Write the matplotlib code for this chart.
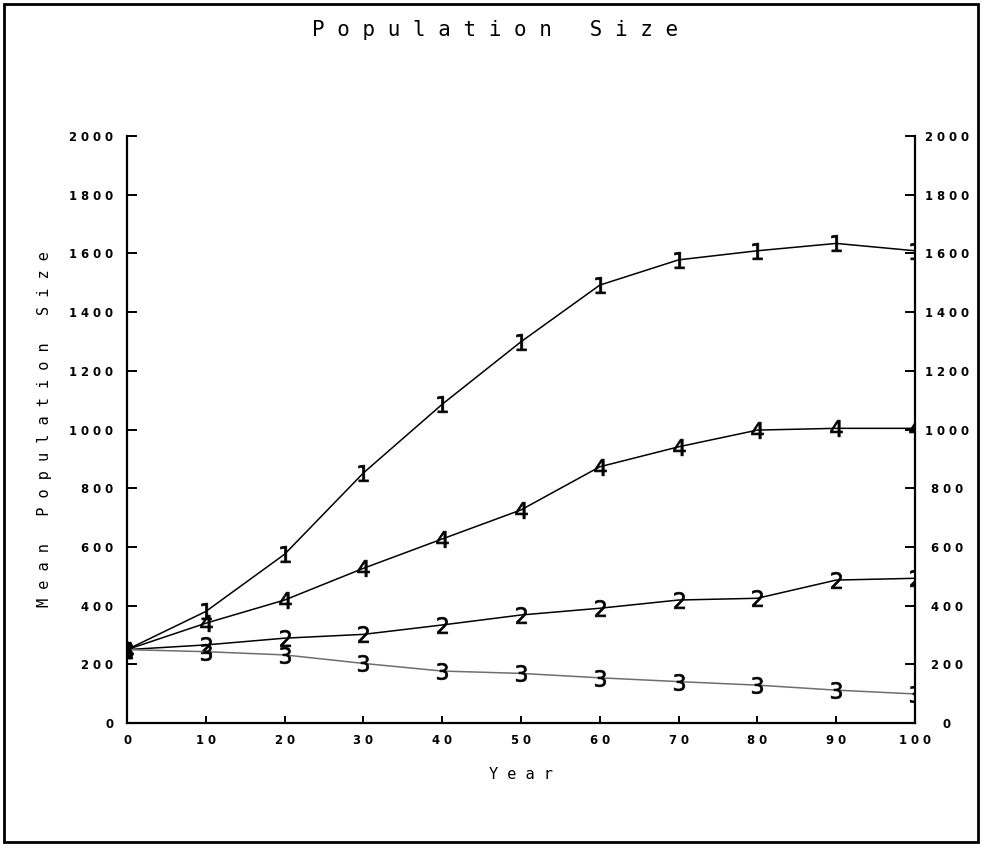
import matplotlib
matplotlib.use("Agg")
import matplotlib.pyplot as plt
from matplotlib.ticker import FuncFormatter, MultipleLocator
from matplotlib.patches import Rectangle
from matplotlib.transforms import ScaledTranslation

# mean population size per decade for four simulated scenarios
years = [0, 10, 20, 30, 40, 50, 60, 70, 80, 90, 100]
pop_1 = [250, 380, 575, 852, 1086, 1299, 1492, 1578, 1609, 1634, 1609]
pop_2 = [250, 266, 289, 302, 334, 368, 391, 419, 425, 487, 493]
pop_3 = [250, 243, 232, 203, 177, 169, 154, 141, 129, 112, 99]
pop_4 = [250, 340, 419, 527, 627, 726, 873, 941, 998, 1004, 1004]

series = [("1", pop_1, "black"), ("4", pop_4, "black"),
          ("2", pop_2, "black"), ("3", pop_3, "#6e6e6e")]

mono = "DejaVu Sans Mono"
tick_font = dict(family="DejaVu Sans", weight="bold", size=8.4)


def spaced(s):
    return " ".join(s)


fig = plt.figure(figsize=(9.82, 8.44), dpi=100)
ax = fig.add_axes([127 / 982, 1 - 723 / 844, (915 - 127) / 982, (723 - 136) / 844])

for name, vals, col in series:
    ax.plot(years, vals, color=col, lw=1.1, marker="$" + name + "$",
            markersize=12, markerfacecolor="black", markeredgecolor="black",
            markeredgewidth=0.5)

ax.set_xlim(0, 100)
ax.set_ylim(0, 2000)
ax.xaxis.set_major_locator(MultipleLocator(10))
ax.yaxis.set_major_locator(MultipleLocator(200))
fmt = FuncFormatter(lambda v, p: spaced(str(int(round(v)))))
ax.xaxis.set_major_formatter(fmt)
ax.yaxis.set_major_formatter(fmt)

ax.spines["top"].set_visible(False)
for s in ("left", "right", "bottom"):
    ax.spines[s].set_linewidth(1.6)

ax.tick_params(axis="y", direction="in", length=7, width=1.4,
               left=True, right=True, labelleft=True, labelright=True, pad=10)
ax.tick_params(axis="x", direction="in", length=5, width=1.4, pad=8)

for lab in ax.get_xticklabels() + ax.get_yticklabels():
    lab.set(fontfamily=tick_font["family"], fontweight=tick_font["weight"],
            fontsize=tick_font["size"])

# labels on the right axis sit centred a little further out
off = ScaledTranslation(13 / 72, 0, fig.dpi_scale_trans)
for t in ax.yaxis.get_major_ticks():
    t.label2.set(fontfamily=tick_font["family"], fontweight=tick_font["weight"],
                 fontsize=tick_font["size"], horizontalalignment="center")
    t.label2.set_transform(t.label2.get_transform() + off)

ax.set_xlabel(spaced("Year"), fontfamily=mono, fontsize=11, labelpad=14)
ax.set_ylabel(spaced("Mean") + "   " + spaced("Population") + "   " + spaced("Size"),
              fontfamily=mono, fontsize=11, labelpad=12)

fig.text(0.504, 1 - 30 / 844, spaced("Population") + "   " + spaced("Size"),
         fontfamily=mono, fontsize=15, ha="center", va="center")

# outer frame around the whole figure
fig.patches.append(Rectangle((4 / 982, 2 / 844), 974 / 982, 838 / 844,
                             transform=fig.transFigure, fill=False,
                             edgecolor="black", lw=2))

fig.savefig("out.png", dpi=100)
